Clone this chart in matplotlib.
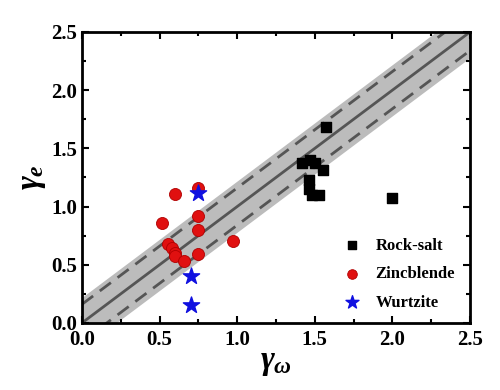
import matplotlib
matplotlib.use("Agg")
import matplotlib.pyplot as plt
import numpy as np

plt.rcParams['font.family'] = ['Liberation Serif', 'DejaVu Serif']
plt.rcParams['mathtext.fontset'] = 'custom'
plt.rcParams['mathtext.it'] = 'Liberation Serif:italic:bold'
plt.rcParams['mathtext.rm'] = 'Liberation Serif:bold'

rs_x = [1.57, 1.42, 1.47, 1.50, 1.55, 1.46, 1.46, 1.48, 1.53, 2.00]
rs_y = [1.68, 1.37, 1.40, 1.37, 1.31, 1.23, 1.15, 1.10, 1.10, 1.07]
zb_x = [0.60, 0.75, 0.515, 0.75, 0.75, 0.97, 0.555, 0.58, 0.60, 0.60, 0.655, 0.75]
zb_y = [1.11, 1.16, 0.86, 0.92, 0.80, 0.70, 0.68, 0.645, 0.60, 0.575, 0.53, 0.59]
wz_x = [0.75, 0.70, 0.70]
wz_y = [1.12, 0.40, 0.155]
band = 0.22
dash_off = 0.16
ticks = [0.0, 0.5, 1.0, 1.5, 2.0, 2.5]

fig = plt.figure(figsize=(5, 3.9), dpi=100)
ax = fig.add_axes([0.164, 0.172, 0.776, 0.746])
xx = np.array([0, 2.5])
ax.fill_between(xx, xx - band, xx + band, color='#bcbcbc', lw=0, zorder=1)
ax.plot(xx, xx, color='#555555', lw=2, zorder=2)
ax.plot(xx, xx + dash_off, color='#555555', lw=2, ls=(0, (5, 3)), zorder=2)
ax.plot(xx, xx - dash_off, color='#555555', lw=2, ls=(0, (5, 3)), zorder=2)

ax.scatter(rs_x, rs_y, marker='s', s=45, color='black', zorder=3, label='Rock-salt')
ax.scatter(zb_x, zb_y, marker='o', s=75, facecolor='#e01010', edgecolor='#b00000', lw=0.6, zorder=3, label='Zincblende')
ax.scatter(wz_x, wz_y, marker='*', s=150, color='#1010e0', zorder=4, label='Wurtzite')

ax.set_xlim(0, 2.5)
ax.set_ylim(0, 2.5)
ax.set_xticks(ticks)
ax.set_yticks(ticks)
ax.set_xticklabels([f'{t:.1f}' for t in ticks])
ax.set_yticklabels([f'{t:.1f}' for t in ticks])
ax.set_xticks(np.arange(0.25, 2.5, 0.5), minor=True)
ax.set_yticks(np.arange(0.25, 2.5, 0.5), minor=True)
ax.tick_params(which='both', direction='in', top=True, right=True, width=1.5)
ax.tick_params(which='major', length=5, labelsize=15)
ax.tick_params(axis='x', which='major', pad=5)
ax.tick_params(which='minor', length=3)
for lab in ax.get_xticklabels() + ax.get_yticklabels():
    lab.set_fontweight('bold')
for sp in ax.spines.values():
    sp.set_linewidth(2)

ax.set_xlabel(r'$\gamma_\omega$', fontsize=24, labelpad=-2)
ax.set_ylabel(r'$\gamma_e$', fontsize=24, labelpad=2)

leg = ax.legend(loc='lower right', bbox_to_anchor=(1.0, -0.01), frameon=False,
                prop={'weight': 'bold', 'size': 12}, handletextpad=0.4, labelspacing=0.75,
                scatterpoints=1, markerscale=0.8)
fig.savefig('out.png', dpi=100)
